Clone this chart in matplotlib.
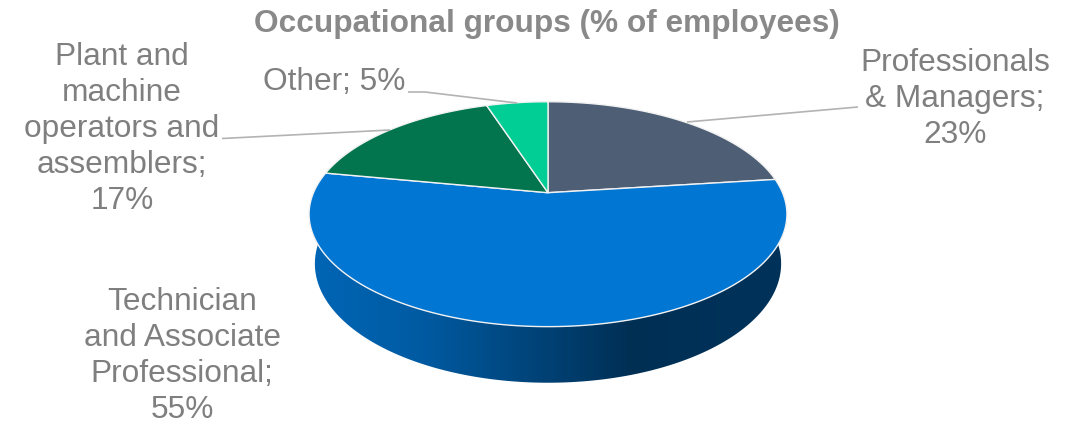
import numpy as np
import matplotlib
matplotlib.use("Agg")
import matplotlib.pyplot as plt
from matplotlib.patches import Polygon
from matplotlib.colors import to_rgb

# Occupational groups, share of employees (%)
categories = ["Professionals\n& Managers;", "Technician\nand Associate\nProfessional;",
              "Plant and\nmachine\noperators and\nassemblers;", "Other;"]
values = [23, 55, 17, 5]
colors = ["#4e5f75", "#0176d3", "#02754f", "#00ce94"]

title = "Occupational groups (% of employees)"

W, H = 1071, 425
fig = plt.figure(figsize=(W / 100, H / 100), dpi=100)
ax = fig.add_axes([0, 0, 1, 1])
ax.set_xlim(0, W)
ax.set_ylim(H, 0)
ax.axis("off")

# perspective camera for a tilted disc of unit radius and thickness h
cx, cy = 548.0, 192.7
D = 4.64
phi = np.arcsin(0.462)
F = 234.5 * D
h = 0.24


def proj(t, z):
    u, v = np.cos(t), np.sin(t)
    depth = D + v * np.cos(phi) - z * np.sin(phi)
    x = cx + F * u / depth
    y = cy - F * (v * np.sin(phi) + z * np.cos(phi)) / depth
    return x, y


total = float(sum(values))
bounds = [np.pi / 2]
for v in values:
    bounds.append(bounds[-1] - 2 * np.pi * v / total)

# brightness profile across the outer wall (lit from the left)
shade_x = [300, 420, 500, 560, 630, 800]
shade_f = [0.87, 0.77, 0.63, 0.53, 0.40, 0.43]
gx = np.arange(300, 800)
gy = np.arange(180, 390)
fac = np.interp(gx, shade_x, shade_f)

walls = []
for i, (a, b) in enumerate(zip(bounds[:-1], bounds[1:])):
    t = np.linspace(a, b, 300)
    xt, yt = proj(t, 0.0)
    xb, yb = proj(t[::-1], -h)
    pts = np.column_stack([np.concatenate([xt, xb]), np.concatenate([yt, yb])])
    walls.append((np.mean(np.sin(t)), i, pts))

# back walls first, front last
for _, i, pts in sorted(walls, key=lambda w: -w[0]):
    rgb = np.array(to_rgb(colors[i]))
    img = np.ones((len(gy), len(gx), 3)) * rgb[None, None, :]
    img = img * fac[None, :, None]
    im = ax.imshow(np.clip(img, 0, 1), extent=(gx[0], gx[-1], gy[-1], gy[0]),
                   aspect="auto", zorder=1, interpolation="bilinear")
    poly = Polygon(pts, closed=True, facecolor="none", edgecolor="none",
                   transform=ax.transData)
    ax.add_patch(poly)
    im.set_clip_path(poly)

# top faces
for i, (a, b) in enumerate(zip(bounds[:-1], bounds[1:])):
    t = np.linspace(a, b, 300)
    xt, yt = proj(t, 0.0)
    pts = np.column_stack([np.concatenate([[cx], xt]), np.concatenate([[cy], yt])])
    ax.add_patch(Polygon(pts, closed=True, facecolor=colors[i], edgecolor="#f2f2f2",
                         linewidth=1.0, joinstyle="round", zorder=3))

ax.set_xlim(0, W)
ax.set_ylim(H, 0)

# title
ax.text(547, 24, title, ha="center", va="center", fontsize=22.8, fontweight="bold",
        color="#898989", family="Liberation Sans", zorder=5)

# data labels
label_pos = [(955, 99), (182, 356), (122, 129), (334, 82)]
lab_kw = dict(ha="center", va="center", multialignment="center", fontsize=22.8,
              color="#7f7f7f", family="Liberation Sans", linespacing=1.27, zorder=5)
for name, val, (lx, ly) in zip(categories, values, label_pos):
    sep = " " if name.endswith(";") and "\n" not in name else "\n"
    ax.text(lx, ly, f"{name}{sep}{val}%", **lab_kw)

# leader lines
lead_kw = dict(color="#b3b3b3", linewidth=1.2, zorder=4, solid_capstyle="butt")
ax.plot([858, 687], [107, 122], **lead_kw)
ax.plot([408, 425, 517], [92, 92, 103], **lead_kw)
ax.plot([222, 390], [138.5, 130], **lead_kw)

fig.savefig("out.png", dpi=100, facecolor="white")
